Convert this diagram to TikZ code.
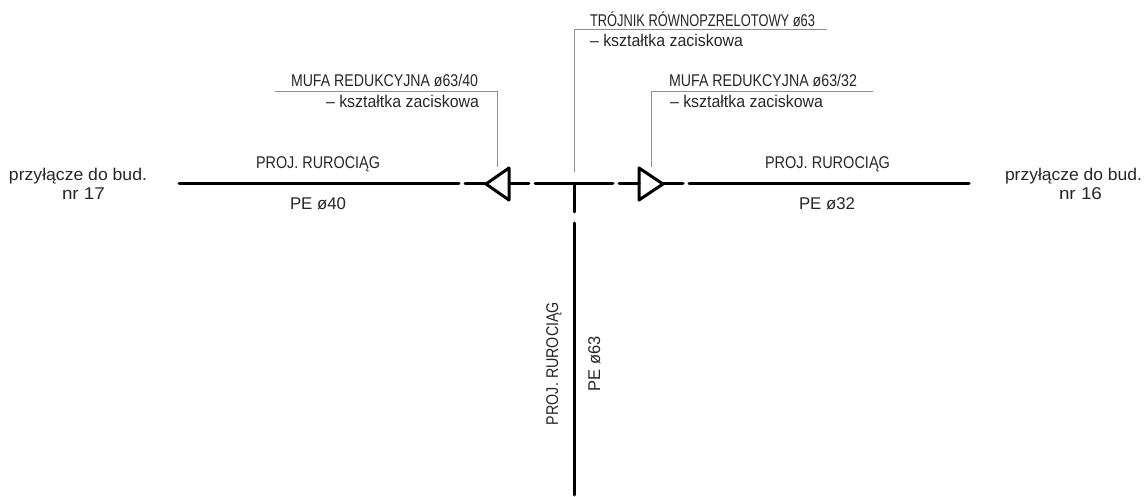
\documentclass[tikz,border=0pt]{standalone}
\usepackage{fontspec}
\usepackage{graphicx}
\setmainfont{Liberation Sans}
\newsavebox{\lblbox}
% \fitw{width in pt}{text}: keeps the height, sets the width
\newcommand{\fitw}[2]{\sbox{\lblbox}{#2}\pgfmathsetmacro{\sxval}{#1/(\wd\lblbox/1pt)}\scalebox{\sxval}[1]{\usebox{\lblbox}}}
\tikzset{
  pipe/.style={line width=3pt,line cap=round,line join=round,black},
  leader/.style={line width=1pt,color=leadergray,line join=miter},
  lbl/.style={inner sep=0pt,outer sep=0pt,anchor=base west,font=\fontsize{17pt}{19pt}\selectfont,text=black!85},
  vlbl/.style={lbl,rotate=90}
}
\definecolor{leadergray}{HTML}{8E8E8E}
\begin{document}
\begin{tikzpicture}[x=1pt,y=-1pt]
\useasboundingbox (0,0) rectangle (1144,497);
% pipe points
\coordinate (L0) at (179,184);
\coordinate (L1) at (459,184);
\coordinate (L2) at (465,184);
\coordinate (TLtip) at (486,184);
\coordinate (TLa) at (509,168);
\coordinate (TLb) at (509,200);
\coordinate (TLc) at (509,184);
\coordinate (L3) at (529,184);
\coordinate (M0) at (535,184);
\coordinate (M1) at (613,184);
\coordinate (R0) at (619,184);
\coordinate (TRc) at (639,184);
\coordinate (TRa) at (639,168);
\coordinate (TRb) at (639,200);
\coordinate (TRtip) at (663,184);
\coordinate (R1) at (683,184);
\coordinate (R2) at (689,184);
\coordinate (R3) at (969,184);
\coordinate (V0) at (574,184);
\coordinate (V1) at (574,212);
\coordinate (V2) at (574,223);
\coordinate (V3) at (574,495);
\draw[pipe] (L0) -- (L1);
\draw[pipe] (L2) -- (TLtip);
\draw[pipe] (TLtip) -- (TLa) -- (TLb) -- cycle;
\draw[pipe] (TLc) -- (L3);
\draw[pipe] (M0) -- (M1);
\draw[pipe] (R0) -- (TRc);
\draw[pipe] (TRtip) -- (TRa) -- (TRb) -- cycle;
\draw[pipe] (TRtip) -- (R1);
\draw[pipe] (R2) -- (R3);
\draw[pipe] (V0) -- (V1);
\draw[pipe] (V2) -- (V3);
% leaders
\coordinate (A0) at (275,92);
\coordinate (A1) at (497,92);
\coordinate (A2) at (497,167);
\coordinate (B0) at (574,172);
\coordinate (B1) at (574,30);
\coordinate (B2) at (827,30);
\coordinate (C0) at (651,167);
\coordinate (C1) at (651,92);
\coordinate (C2) at (873,92);
\draw[leader] (A0) -- (A1) -- (A2);
\draw[leader] (B0) -- (B1) -- (B2);
\draw[leader] (C0) -- (C1) -- (C2);
% labels
\node[lbl] (t1) at (590,27) {\fitw{225}{TRÓJNIK RÓWNOPZRELOTOWY ø63}};
\node[lbl] (t2) at (590,47) {\fitw{153}{– kształtka zaciskowa}};
\node[lbl] (a1) at (291,87) {\fitw{187}{MUFA REDUKCYJNA ø63/40}};
\node[lbl] (a2) at (326,108) {\fitw{153}{– kształtka zaciskowa}};
\node[lbl] (c1) at (669,87) {\fitw{188}{MUFA REDUKCYJNA ø63/32}};
\node[lbl] (c2) at (670,108) {\fitw{153}{– kształtka zaciskowa}};
\node[lbl] (p1) at (256,169) {\fitw{124}{PROJ. RUROCIĄG}};
\node[lbl] (p2) at (765,169) {\fitw{125}{PROJ. RUROCIĄG}};
\node[lbl] (d1) at (290,210) {\fitw{56}{PE ø40}};
\node[lbl] (d2) at (799,210) {\fitw{56}{PE ø32}};
\node[lbl] (b1) at (9,181) {\fitw{138}{przyłącze do bud.}};
\node[lbl] (n1) at (62,200) {\fitw{43}{nr 17}};
\node[lbl] (b2) at (1005,181) {\fitw{137}{przyłącze do bud.}};
\node[lbl] (n2) at (1059,200) {\fitw{43}{nr 16}};
\node[vlbl] (p3) at (558,425) {\fitw{123}{PROJ. RUROCIĄG}};
\node[vlbl] (d3) at (600,391) {\fitw{55}{PE ø63}};
\end{tikzpicture}
\end{document}
